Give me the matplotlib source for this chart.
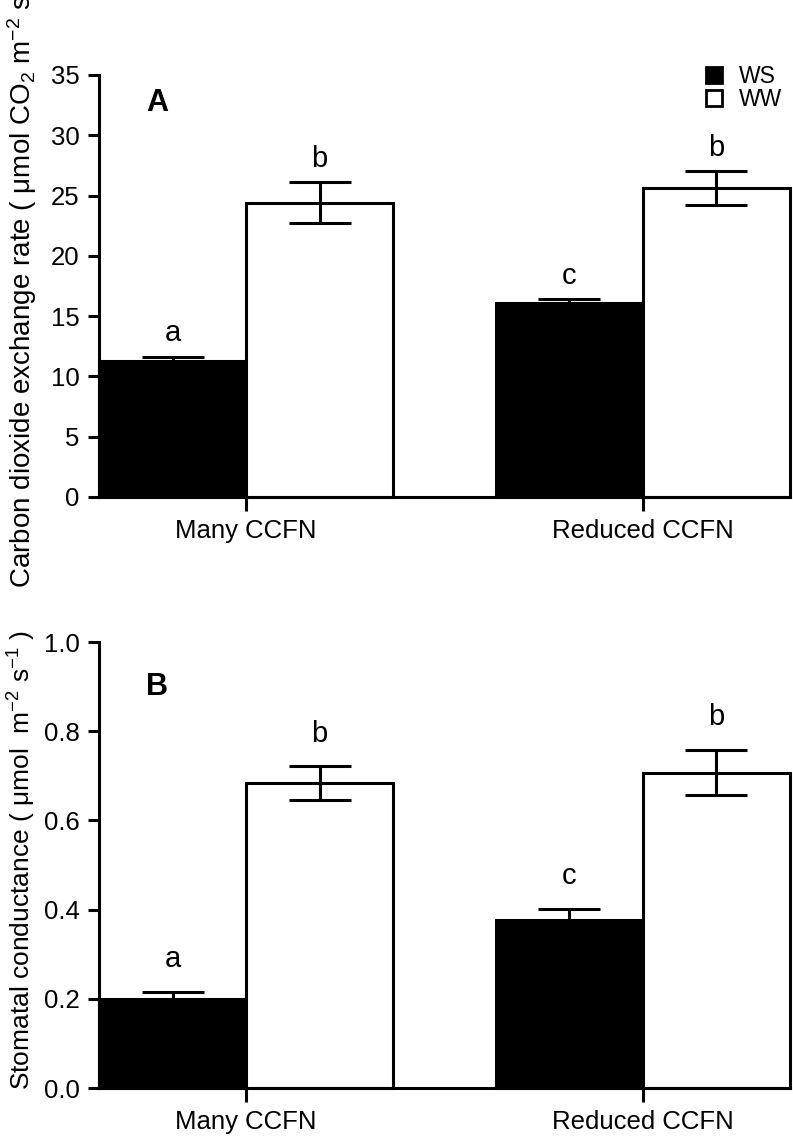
import matplotlib
matplotlib.use('Agg')
import matplotlib.pyplot as plt
from matplotlib.lines import Line2D

plt.rcParams['font.family'] = ['Liberation Sans', 'DejaVu Sans']
plt.rcParams['mathtext.fontset'] = 'custom'
plt.rcParams['mathtext.rm'] = 'Liberation Sans'
plt.rcParams['mathtext.it'] = 'Liberation Sans'
plt.rcParams['mathtext.bf'] = 'Liberation Sans:bold'

# data
groups = ['Many CCFN', 'Reduced CCFN']
series = ['WS', 'WW']

co2_ws = [11.3, 16.1]
co2_ws_err = [0.3, 0.3]
co2_ww = [24.4, 25.6]
co2_ww_err = [1.7, 1.4]
co2_letters_ws = ['a', 'c']
co2_letters_ww = ['b', 'b']

gs_ws = [0.199, 0.377]
gs_ws_err = [0.016, 0.024]
gs_ww = [0.683, 0.707]
gs_ww_err = [0.038, 0.051]
gs_letters_ws = ['a', 'c']
gs_letters_ww = ['b', 'b']

centers = [0.0, 2.7]
lw = 2.2

fig = plt.figure(figsize=(7.93, 11.4), dpi=100)
W, H = 793.0, 1140.0
axA = fig.add_axes([99 / W, 1 - 497 / H, 691 / W, 422 / H])
axB = fig.add_axes([99 / W, 1 - 1088 / H, 691 / W, 446 / H])


def draw_panel(ax, ws, ws_err, ww, ww_err, let_ws, let_ww, ymax, step, off, fmt):
    x_ws = [c - 0.5 for c in centers]
    x_ww = [c + 0.5 for c in centers]
    ax.bar(x_ws, ws, width=1.0, color='black', edgecolor='black', linewidth=lw, clip_on=False, zorder=2)
    ax.bar(x_ww, ww, width=1.0, color='white', edgecolor='black', linewidth=lw, clip_on=False, zorder=2)
    for xs, v, e in ((x_ws, ws, ws_err), (x_ww, ww, ww_err)):
        ax.errorbar(xs, v, yerr=e, fmt='none', ecolor='black', elinewidth=lw,
                    capsize=22, capthick=lw, zorder=3, clip_on=False)
    for xs, v, e, lets in ((x_ws, ws, ws_err, let_ws), (x_ww, ww, ww_err, let_ww)):
        for x, y, err, t in zip(xs, v, e, lets):
            ax.text(x, y + err + off, t, ha='center', va='bottom', fontsize=21)
    ax.set_xlim(-1.0, 3.7)
    ax.set_ylim(0, ymax)
    ax.set_xticks(centers)
    ax.set_xticklabels(groups, fontsize=18.5)
    ticks = [i * step for i in range(int(round(ymax / step)) + 1)]
    ax.set_yticks(ticks)
    ax.set_yticklabels([fmt % t for t in ticks], fontsize=18.5)
    ax.spines['top'].set_visible(False)
    ax.spines['right'].set_visible(False)
    ax.spines['left'].set_linewidth(lw)
    ax.spines['bottom'].set_linewidth(lw)
    ax.tick_params(axis='x', length=10, width=lw, pad=6)
    ax.tick_params(axis='y', length=8, width=lw, pad=6)


draw_panel(axA, co2_ws, co2_ws_err, co2_ww, co2_ww_err, co2_letters_ws, co2_letters_ww,
           35, 5, 0.8, '%d')
draw_panel(axB, gs_ws, gs_ws_err, gs_ww, gs_ww_err, gs_letters_ws, gs_letters_ww,
           1.0, 0.2, 0.042, '%.1f')

fig.text(157 / W, 1 - 103 / H, 'A', fontsize=22, fontweight='bold', ha='center', va='center')
fig.text(157 / W, 1 - 687 / H, 'B', fontsize=22, fontweight='bold', ha='center', va='center')

fig.text(22 / W, 1 - 588 / H,
         'Carbon dioxide exchange rate ( μmol CO$_2$ m$^{-2}$ s$^{-1}$ )',
         rotation=90, ha='center', va='bottom', fontsize=20)
fig.text(22 / W, 1 - 860 / H,
         'Stomatal conductance ( μmol  m$^{-2}$ s$^{-1}$ )',
         rotation=90, ha='center', va='center', fontsize=19)

handles = [Line2D([], [], ls='none', marker='s', markersize=11, markerfacecolor='black',
                  markeredgecolor='black', markeredgewidth=2),
           Line2D([], [], ls='none', marker='s', markersize=11, markerfacecolor='white',
                  markeredgecolor='black', markeredgewidth=2)]
fig.legend(handles, series, loc='upper left', bbox_to_anchor=(703 / W, 1 - 65 / H),
           frameon=False, fontsize=16.5, handlelength=1.0, handletextpad=0.55,
           labelspacing=0.0, borderpad=0, borderaxespad=0)

fig.savefig('out.png', dpi=100)
